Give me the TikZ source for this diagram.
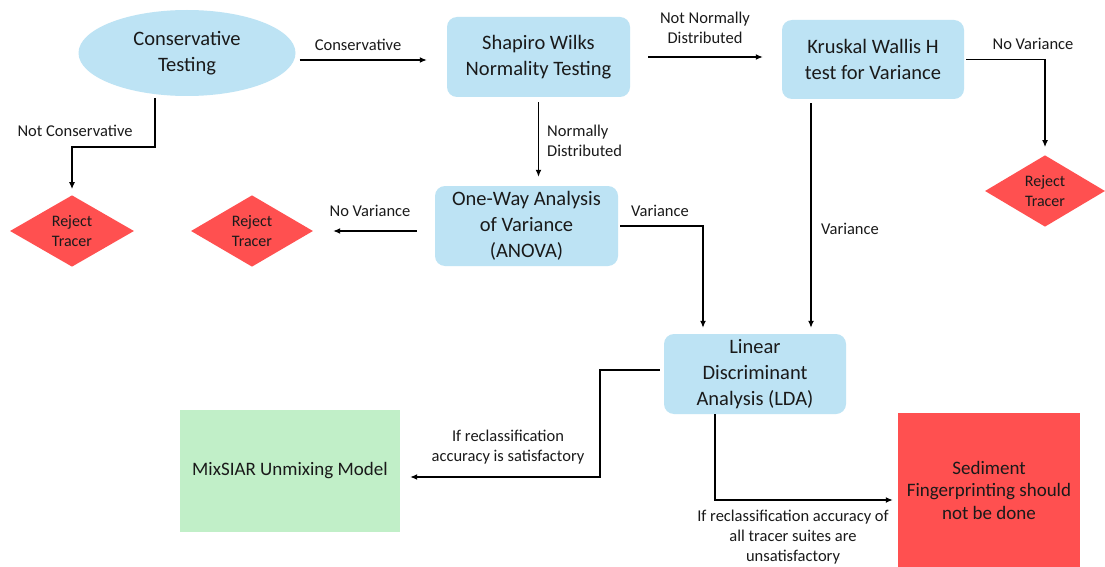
\documentclass[tikz,border=0pt]{standalone}
\usepackage{fontspec}
\setmainfont{Carlito}
\usetikzlibrary{shapes.geometric,arrows.meta,calc}
\definecolor{boxblue}{HTML}{BDE3F4}
\definecolor{rejred}{HTML}{FF5050}
\definecolor{mixgreen}{HTML}{C1EFC8}
\definecolor{txt}{HTML}{1A1A1A}
\begin{document}
\begin{tikzpicture}[x=1pt,y=-1pt,
  every node/.style={text=txt},
  maintext/.style={font=\fontsize{20.5}{26}\selectfont, align=center},
  boxtext/.style={font=\fontsize{19}{22.5}\selectfont, align=center},
  lbl/.style={font=\fontsize{16.5}{20}\selectfont, align=center, inner sep=0pt},
  bluebox/.style={maintext, rectangle, rounded corners=10pt, fill=boxblue, inner sep=0pt},
  rejdiam/.style={diamond, fill=rejred, inner sep=0pt, font=\fontsize{16}{20}\selectfont, align=center},
  arr/.style={draw=black, line width=1.3pt, -{Latex[length=7pt,width=6pt]}}
]
\useasboundingbox (0,0) rectangle (1105,567);
\fill[white] (0,0) rectangle (1105,567);

% nodes
\node[maintext, ellipse, fill=boxblue, minimum width=217, minimum height=86, inner sep=0pt] (ell) at (187,53) {Conservative\\Testing};
\node[bluebox, minimum width=183, minimum height=80] (sw) at (538.5,57) {Shapiro Wilks\\Normality Testing};
\node[bluebox, minimum width=182, minimum height=79] (kw) at (873,59.5) {Kruskal Wallis H\\test for Variance};
\node[bluebox, minimum width=183, minimum height=80] (anova) at (526.5,226) {One-Way Analysis\\of Variance\\(ANOVA)};
\node[bluebox, minimum width=182, minimum height=80] (lda) at (755,374) {Linear\\Discriminant\\Analysis (LDA)};
\node[boxtext, rectangle, fill=mixgreen, minimum width=220, minimum height=122, inner sep=0pt] (mix) at (290,471) {MixSIAR Unmixing Model};
\node[boxtext, rectangle, fill=rejred, minimum width=182, minimum height=154, inner sep=0pt] (sed) at (989,490) {Sediment\\Fingerprinting should\\not be done};
\node[rejdiam, minimum width=124, minimum height=70] (rj1) at (72,231) {Reject\\Tracer};
\node[rejdiam, minimum width=122, minimum height=70] (rj2) at (252,231) {Reject\\Tracer};
\node[rejdiam, minimum width=120, minimum height=70] (rj3) at (1045,191) {Reject\\Tracer};

% helper coordinates
\coordinate (h1) at (0,60);
\coordinate (c1) at (155,147);
\coordinate (v2) at (811,0);
\coordinate (b9) at (600,477);
\coordinate (b10) at (715,500);

% connectors
\draw[arr, shorten <=4pt, shorten >=20pt] (ell.east |- h1) -- (sw.west |- h1);
\draw[arr, shorten >=6pt] ([yshift=-2pt]ell.south -| c1) -- (c1) -| (rj1.north);
\draw[arr, shorten <=18pt, shorten >=19pt] (sw.east) -- (kw.west |- sw.east);
\draw[arr, shorten <=2pt, shorten >=8pt] (kw.east) -| (rj3.north);
\draw[arr, shorten <=4pt, shorten >=6pt] (kw.south -| v2) -- (lda.north -| v2);
\draw[arr, shorten <=5pt, shorten >=9pt] (sw.south) -- (sw.south |- anova.north);
\draw[arr, shorten <=18pt, shorten >=20pt] ([yshift=-5pt]anova.west) -- (rj2.east);
\draw[arr, shorten <=2pt, shorten >=6pt] (anova.east) -| ([xshift=-52pt]lda.north);
\draw[arr, shorten <=4pt, shorten >=10pt] ([yshift=4pt]lda.west) -| (b9) -- (b9 -| mix.east);
\draw[arr, shorten >=5pt] (lda.south -| b10) -- (b10) -- (b10 -| sed.west);

% labels
\node[lbl] (l1) at (358,45) {Conservative};
\node[lbl] (l2) at (75,131) {Not Conservative};
\node[lbl] (l3) at (705,28) {Not Normally\\Distributed};
\node[lbl] (l4) at (1033,44) {No Variance};
\node[lbl, align=left, anchor=west] (l5) at (547,141) {Normally\\Distributed};
\node[lbl] (l6) at (370,211) {No Variance};
\node[lbl] (l7) at (660,211) {Variance};
\node[lbl] (l8) at (850,229) {Variance};
\node[lbl] (l9) at (508,447) {If reclassification\\accuracy is satisfactory};
\node[lbl] (l10) at (793,537) {If reclassification accuracy of\\all tracer suites are\\unsatisfactory};
\end{tikzpicture}
\end{document}
